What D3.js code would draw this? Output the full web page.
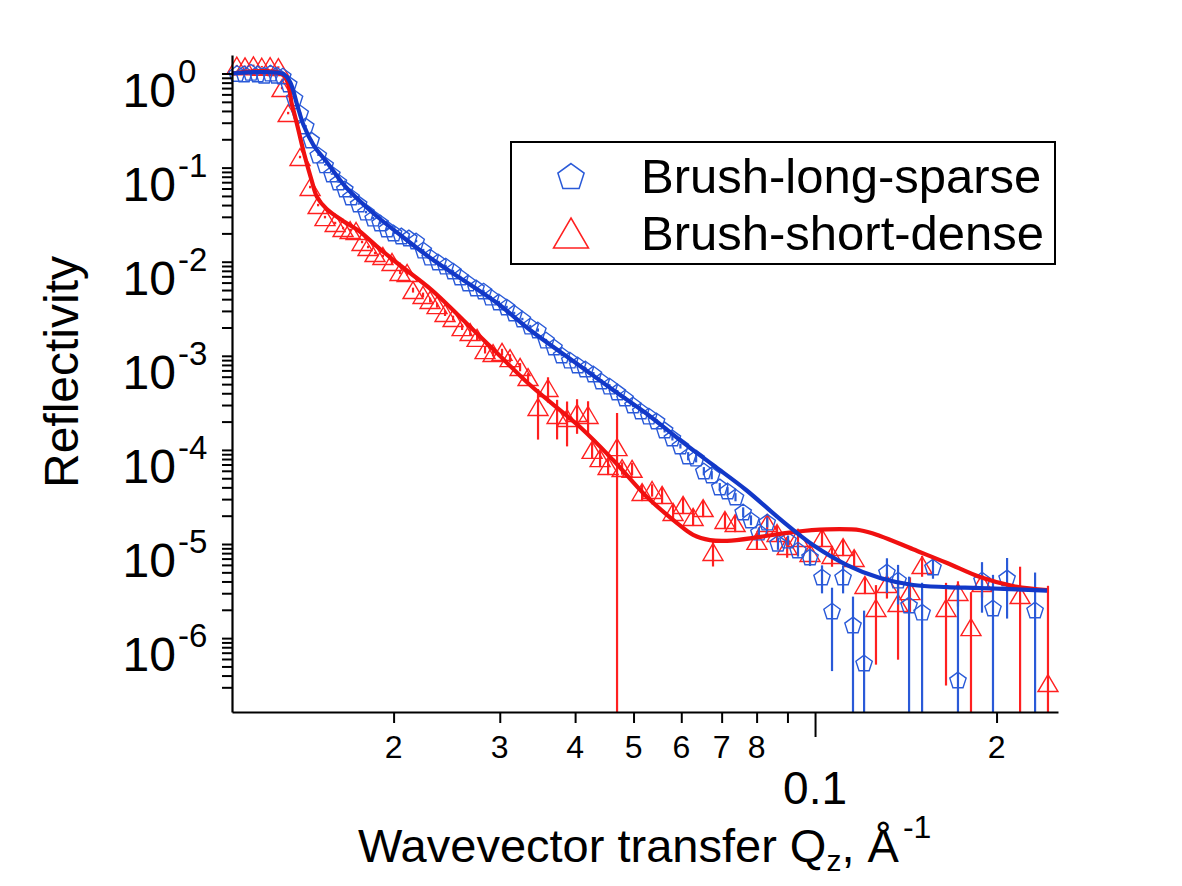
<!DOCTYPE html>
<html>
<head>
<meta charset="utf-8">
<script src="https://cdnjs.cloudflare.com/ajax/libs/d3/7.8.5/d3.min.js"></script>
<style>
body{margin:0;background:#fff}
text{font-family:"Liberation Sans",Arial,sans-serif;fill:#000}
</style>
</head>
<body>
<svg id="chart"></svg>
<script>

// Brush-long-sparse (pentagons)
var blueQ = [0.0110,0.0113,0.0116,0.0119,0.0122,0.0125,0.0128,0.0131,0.0134,0.0137,
    0.0140,0.0143,0.0146,0.0150,0.0154,0.0158,0.0162,0.0166,0.0170,0.0175,
    0.0180,0.0185,0.0190,0.0195,0.0200,0.0206,0.0212,0.0218,0.0224,0.0230,
    0.0237,0.0244,0.0251,0.0258,0.0266,0.0274,0.0282,0.0290,0.0299,0.0308,
    0.0317,0.0327,0.0337,0.0347,0.0358,0.0369,0.0380,0.0392,0.0404,0.0416,
    0.0429,0.0442,0.0456,0.0470,0.0484,0.0499,0.0514,0.0530,0.0546,0.0563,
    0.0580,0.0598,0.0616,0.0635,0.0654,0.0674,0.0695,0.0716,0.0738,0.0760,
    0.0783,0.0807,0.0833,0.0868,0.0902,0.0937,0.0981,0.1027,0.1067,0.1113,
    0.1156,0.1206,0.1316,0.1373,0.1432,0.1505,0.1569,0.1726,0.1892,0.1973,
    0.2082,0.2317]
var blueR = [1.00,0.99,1.03,0.99,0.96,1.01,0.96,0.94,0.774,0.549,
    0.380,0.277,0.197,0.136,0.107,0.0855,0.0703,0.0593,0.0487,0.0411,
    0.0337,0.0291,0.0258,0.0223,0.0202,0.0188,0.0179,0.0166,0.0133,0.0112,
    0.00993,0.00899,0.00796,0.00688,0.00594,0.00526,0.00488,0.00421,0.00373,0.00330,
    0.00285,0.00246,0.00207,0.00188,0.00147,0.00124,0.00102,9.01e-4,7.99e-4,7.24e-4,
    6.41e-4,5.40e-4,4.77e-4,4.13e-4,3.56e-4,3.00e-4,2.59e-4,2.29e-4,2.03e-4,1.63e-4,
    1.34e-4,1.10e-4,8.61e-5,8.19e-5,5.97e-5,5.42e-5,4.04e-5,3.66e-5,3.16e-5,2.19e-5,
    1.80e-5,1.34e-5,1.71e-5,1.02e-5,1.10e-5,8.63e-6,7.29e-6,4.46e-6,1.94e-6,4.46e-6,
    1.38e-6,5.44e-7,5.04e-6,4.14e-6,2.25e-6,1.89e-6,5.70e-6,3.59e-7,4.14e-6,2.09e-6,
    4.36e-6,1.99e-6]
// relative error dR/R
var blueErr = [0.01,0.01,0.01,0.01,0.01,0.01,0.01,0.01,0.02,0.02,
    0.02,0.02,0.02,0.02,0.02,0.02,0.02,0.02,0.02,0.02,
    0.03,0.03,0.03,0.03,0.03,0.03,0.04,0.03,0.03,0.03,
    0.03,0.03,0.03,0.03,0.03,0.03,0.03,0.03,0.03,0.03,
    0.03,0.03,0.03,0.04,0.03,0.03,0.03,0.05,0.05,0.05,
    0.05,0.05,0.05,0.05,0.05,0.05,0.05,0.06,0.05,0.06,
    0.06,0.06,0.1,0.1,0.1,0.1,0.1,0.1,0.1,0.12,
    0.12,0.12,0.12,0.15,0.12,0.15,0.2,0.33,0.77,0.33,
    1.0,2.6,0.4,0.45,1.0,1.05,0.25,8.5,0.55,1.25,
    0.63,1.5]

// Brush-short-dense (triangles)
var redQ = [0.01099,0.01134,0.01171,0.01209,0.01248,0.01288,0.01306,0.01337,0.01399,0.01454,
    0.01499,0.01539,0.0160,0.01649,0.01694,0.01733,0.01773,0.01814,0.01863,0.0192,
    0.01988,0.0205,0.02106,0.02154,0.02238,0.02299,0.02361,0.02434,0.0251,0.02598,
    0.02679,0.02751,0.02836,0.02924,0.03026,0.0312,0.03242,0.03342,0.03472,0.03607,
    0.03734,0.03879,0.0403,0.04203,0.04268,0.0440,0.04537,0.04695,0.04786,0.04972,
    0.05166,0.05367,0.05576,0.05815,0.06041,0.06277,0.06522,0.06773,0.0709,0.0737,
    0.0801,0.0833,0.0865,0.0899,0.0937,0.0981,0.1027,0.1067,0.1113,0.1161,
    0.1210,0.1262,0.1316,0.1373,0.1437,0.1505,0.1649,0.1726,0.1814,0.1892,
    0.2188,0.2434]
var redR = [1.21,1.19,1.22,1.18,1.20,1.17,0.701,0.380,0.1296,0.0622,
    0.0400,0.0298,0.0258,0.0228,0.0217,0.0212,0.0162,0.01434,0.01237,0.0115,
    0.00993,0.00778,0.00759,0.00500,0.00443,0.00392,0.00346,0.00285,0.00252,0.00202,
    0.00179,0.00155,0.00115,0.00107,0.00110,9.45e-4,7.61e-4,5.95e-4,2.86e-4,4.55e-4,
    2.35e-4,2.18e-4,2.47e-4,2.35e-4,1.00e-4,8.19e-5,6.75e-5,1.07e-4,6.42e-5,6.30e-5,
    3.57e-5,3.75e-5,3.32e-5,2.19e-5,2.60e-5,1.94e-5,2.41e-5,8.24e-6,1.80e-5,1.67e-5,
    1.08e-5,1.67e-5,1.31e-5,9.52e-6,1.16e-5,8.04e-6,1.16e-5,7.64e-6,9.29e-6,7.10e-6,
    3.67e-6,2.09e-6,3.76e-6,2.36e-6,3.16e-6,5.98e-6,2.09e-6,3.09e-6,1.31e-6,3.85e-6,
    2.87e-6,3.33e-7]
var redErr = [0.02,0.02,0.02,0.02,0.02,0.02,0.03,0.03,0.03,0.03,
    0.03,0.03,0.03,0.03,0.03,0.03,0.03,0.03,0.03,0.03,
    0.05,0.05,0.06,0.06,0.06,0.06,0.06,0.07,0.06,0.07,
    0.07,0.07,0.08,0.08,0.08,0.1,0.1,0.1,0.55,0.3,
    0.45,0.5,0.4,0.4,0.2,0.2,0.2,1.3,0.15,0.15,
    0.2,0.15,0.2,0.2,0.2,0.2,0.2,0.3,0.2,0.2,
    0.2,0.25,0.2,0.25,0.2,0.25,0.2,0.25,0.2,0.2,
    0.2,0.75,0.3,0.75,0.4,0.25,0.85,0.3,1.35,0.3,
    1.0,9.8]

// model fits
var blueFitQ = [0.01079,0.01311,0.01347,0.01384,0.01418,0.01473,0.01549,0.01672,0.01874,0.02062,
    0.02314,0.02608,0.02969,0.03368,0.04076,0.04624,0.05264,0.05971,0.06773,0.07686,
    0.0875,0.09924,0.1130,0.1282,0.1454,0.1656,0.1877,0.2425]
var blueFitR = [1.0,0.99,0.812,0.4627,0.2836,0.1738,0.1147,0.0607,0.0306,0.01875,
    0.01068,0.00639,0.00364,0.00188,7.79e-4,4.33e-4,2.41e-4,1.27e-4,6.91e-5,3.75e-5,
    1.84e-5,9.76e-6,5.98e-6,4.35e-6,3.67e-6,3.49e-6,3.41e-6,3.20e-6]
var redFitQ = [0.01079,0.01311,0.01357,0.01384,0.01423,0.01462,0.01493,0.01549,0.01649,0.01753,
    0.01874,0.02027,0.02314,0.02608,0.02969,0.03368,0.04076,0.04624,0.05264,0.05903,
    0.06278,0.06696,0.07146,0.08108,0.09194,0.1047,0.1188,0.1282,0.1454,0.1656,
    0.1877,0.2130,0.2425]
var redFitR = [1.0,0.97,0.4627,0.2836,0.1361,0.0738,0.0487,0.0363,0.0271,0.0212,
    0.01468,0.00969,0.0050,0.0024,0.00107,4.89e-4,1.75e-4,7.81e-5,3.16e-5,1.67e-5,
    1.25e-5,1.10e-5,1.08e-5,1.19e-5,1.34e-5,1.43e-5,1.40e-5,1.22e-5,8.80e-6,6.28e-6,
    4.46e-6,3.58e-6,3.24e-6]

// axis ticks
var xTickValues = [0.02,0.03,0.04,0.05,0.06,0.07,0.08,0.09,0.1,0.2]
var xTickLabels = ["2","3","4","5","6","7","8","","0.1","2"]
var yDecades = [0,-1,-2,-3,-4,-5,-6]
var seriesNames = ["Brush-long-sparse","Brush-short-dense"]

var colors = {blueLine:"#1238c8",blueMark:"#2a5ad8",redLine:"#f01010",redMark:"#ff2020"}

var zip = function(q,r,e)
{
    return q.map(function(d,i){ return {q:d, r:r[i], e:e?e[i]:0}; })
}

// pentagon centred on its bounding box
var pentagonPath = function(rad)
{
    var pts = d3.range(5).map(function(k)
    {
        var a = -Math.PI/2 + k*2*Math.PI/5;
        return [rad*Math.cos(a), rad*Math.sin(a)+0.0955*rad];
    })
    return "M"+pts.map(function(p){return p[0].toFixed(2)+","+p[1].toFixed(2)}).join("L")+"Z";
}
var trianglePath = function(w,h)
{
    return "M0,"+(-h/2)+"L"+(w/2)+","+(h/2)+"L"+(-w/2)+","+(h/2)+"Z";
}

var drawSeries = function(g,data,scales,lengths,shape,color)
{
    var x = scales.xScale, y = scales.yScale;
    var ymin = y.domain()[0];

    g.append("g").selectAll("line")
        .data(data)
        .enter()
        .append("line")
        .attr("x1",function(d){return x(d.q)})
        .attr("x2",function(d){return x(d.q)})
        .attr("y1",function(d){return Math.max(0,y(d.r*(1+d.e)))})
        .attr("y2",function(d)
        {
            var lo = d.r*(1-d.e);
            return lo>ymin ? y(lo) : lengths.graph.height;
        })
        .attr("stroke",color)
        .attr("stroke-width",2.2)

    g.append("g").selectAll("path")
        .data(data)
        .enter()
        .append("path")
        .attr("d",shape)
        .attr("transform",function(d){return "translate("+x(d.q)+","+y(d.r)+")"})
        .attr("fill","none")
        .attr("stroke",color)
        .attr("stroke-width",1.4)
}

var drawFit = function(g,data,scales,color)
{
    var line = d3.line()
        .x(function(d){return scales.xScale(d.q)})
        .y(function(d){return scales.yScale(d.r)})
        .curve(d3.curveCatmullRom.alpha(0.5))
    g.append("path")
        .datum(data)
        .attr("d",line)
        .attr("fill","none")
        .attr("stroke",color)
        .attr("stroke-width",4.2)
        .attr("stroke-linejoin","round")
}

var initGraph = function(target)
{
    var screen = {width:1182, height:886};
    var margins = {top:55, bottom:174, left:232, right:124};
    var graph = {
        width:screen.width-margins.left-margins.right,
        height:screen.height-margins.top-margins.bottom
    }
    var lengths = {screen:screen, margins:margins, graph:graph}

    var svg = d3.select(target)
        .attr("width",screen.width)
        .attr("height",screen.height)

    var xScale = d3.scaleLog()
        .domain([0.01079,0.2529])
        .range([0,graph.width])
    var yScale = d3.scaleLog()
        .domain([1.64e-7,1.573])
        .range([graph.height,0])
    var scales = {xScale:xScale, yScale:yScale}

    var g = svg.append("g")
        .attr("transform","translate("+margins.left+","+margins.top+")")

    // data: red below blue, fit curves on top
    drawSeries(g,zip(redQ,redR,redErr),scales,lengths,trianglePath(20,17),colors.redMark);
    drawSeries(g,zip(blueQ,blueR,blueErr),scales,lengths,pentagonPath(8.6),colors.blueMark);
    drawFit(g,zip(redFitQ,redFitR),scales,colors.redLine);
    drawFit(g,zip(blueFitQ,blueFitR),scales,colors.blueLine);

    // y axis
    var yTicks = [];
    yDecades.forEach(function(p)
    {
        d3.range(1,10).forEach(function(m)
        {
            var v = m*Math.pow(10,p);
            if(v<=yScale.domain()[1]) yTicks.push(v);
        })
    })
    yTicks.push(3e-7,4e-7,5e-7,6e-7,7e-7,8e-7,9e-7);

    var yAxis = g.append("g")
        .call(d3.axisLeft(yScale).tickValues(yTicks).tickSize(10).tickSizeOuter(0).tickFormat(""))
    yAxis.select(".domain").attr("stroke-width",2.2)
    yAxis.selectAll(".tick line").attr("stroke-width",2)

    var yLab = g.append("g")
    yDecades.forEach(function(p)
    {
        var yy = yScale(Math.pow(10,p));
        yLab.append("text")
            .attr("x",-56)
            .attr("y",yy+33)
            .attr("text-anchor","end")
            .style("font-size","48px")
            .text("10")
        yLab.append("text")
            .attr("x",-54)
            .attr("y",yy+9)
            .style("font-size","33px")
            .text(p==0 ? "0" : "-"+(-p))
    })

    // x axis
    var xAxis = g.append("g")
        .attr("transform","translate(0,"+graph.height+")")
        .call(d3.axisBottom(xScale).tickValues(xTickValues).tickSize(11).tickSizeOuter(0).tickFormat(""))
    xAxis.select(".domain").attr("stroke-width",2.2)
    xAxis.selectAll(".tick line")
        .attr("stroke-width",2)
        .attr("y2",function(d){return d==0.1 ? 25 : 11})

    g.append("g").selectAll("text")
        .data(xTickValues)
        .enter()
        .append("text")
        .attr("x",function(d){return xScale(d)})
        .attr("y",function(d){return graph.height + (d==0.1 ? 92 : 46)})
        .attr("text-anchor","middle")
        .style("font-family","'Liberation Sans Narrow','Liberation Sans',sans-serif")
        .style("font-size",function(d){return d==0.1 ? "46px" : "32px"})
        .text(function(d,i){return xTickLabels[i]})

    // axis titles
    svg.append("text")
        .attr("transform","translate(78,372) rotate(-90)")
        .attr("text-anchor","middle")
        .style("font-size","48px")
        .text("Reflectivity")

    var xt = svg.append("text")
        .attr("x",358)
        .attr("y",862)
        .style("font-size","47px")
    xt.append("tspan").text("Wavevector transfer Q")
    xt.append("tspan").attr("dy",9).style("font-size","30px").text("z")
    xt.append("tspan").attr("dy",-9).text(", Å")
    xt.append("tspan").attr("dy",-24).attr("dx",4).style("font-size","32px").text("-1")

    // legend
    var leg = svg.append("g")
    leg.append("rect")
        .attr("x",511).attr("y",142)
        .attr("width",544).attr("height",122)
        .attr("fill","white")
        .attr("stroke","black")
        .attr("stroke-width",2)
    leg.append("path")
        .attr("d",pentagonPath(13.8))
        .attr("transform","translate(571,176)")
        .attr("fill","none").attr("stroke",colors.blueMark).attr("stroke-width",1.5)
    leg.append("path")
        .attr("d",trianglePath(35,30))
        .attr("transform","translate(571,233)")
        .attr("fill","none").attr("stroke",colors.redMark).attr("stroke-width",1.5)
    leg.selectAll("text.name")
        .data(seriesNames)
        .enter()
        .append("text")
        .attr("x",641)
        .attr("y",function(d,i){return 193+i*57})
        .style("font-size","49px")
        .text(function(d){return d})
}

initGraph("#chart");
</script>
</body>
</html>
